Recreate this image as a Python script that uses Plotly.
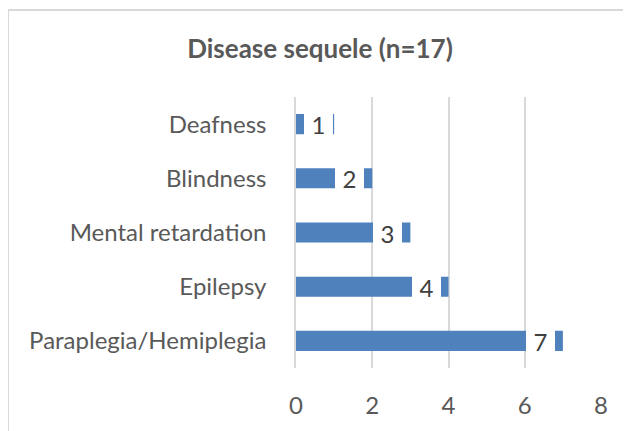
import plotly.graph_objects as go

categories = ["Paraplegia/Hemiplegia", "Epilepsy", "Mental retardation", "Blindness", "Deafness"]
values = [7, 4, 3, 2, 1]
x_ticks = [0, 2, 4, 6, 8]
title = "Disease sequele (n=17)"

BAR = "#4f81bd"
GRID = "#d9d9d9"
TXT = "#595959"
FONT = "Lato"
# per-label offset (px) of the white data-label box from the bar end
LABEL_XSHIFT = {"Deafness": -1}
DEFAULT_XSHIFT = -8

# figure is placed by the page at (8, 8); plot area on page is 296..601 x 97..371
W, H = 623, 423
L, T = 288, 89
PW, PH = 305, 274
R, B = W - L - PW, H - T - PH

fig = go.Figure()
fig.add_trace(go.Bar(
    y=categories, x=values, orientation="h",
    marker=dict(color=BAR, line=dict(width=0)),
    width=0.37, hoverinfo="skip",
))

annotations = []
for c, v in zip(categories, values):
    annotations.append(dict(
        x=v, y=c, xref="x", yref="y", text=str(v), showarrow=False,
        xanchor="right", xshift=LABEL_XSHIFT.get(c, DEFAULT_XSHIFT), width=29, height=24,
        bgcolor="white", borderpad=0, borderwidth=0,
        font=dict(family=FONT, size=24, color="#404040"),
    ))

fig.update_layout(
    width=W, height=H,
    margin=dict(l=L, r=R, t=T, b=B, pad=0),
    paper_bgcolor="white", plot_bgcolor="white",
    showlegend=False,
    title=dict(text="<b>" + title + "</b>", xref="container", yref="container",
               x=(320 - 8) / W, y=1 - (49 - 8) / H, xanchor="center", yanchor="middle",
               font=dict(family=FONT, size=26, color=TXT)),
    annotations=annotations,
    xaxis=dict(range=[0, 8], tickvals=x_ticks, ticktext=[str(t) for t in x_ticks],
               showgrid=True, gridcolor=GRID, gridwidth=1.5, zeroline=False,
               showline=False, ticks="", ticklabelstandoff=21,
               tickfont=dict(family=FONT, size=24, color=TXT), fixedrange=True),
    yaxis=dict(showgrid=False, zeroline=False, showline=True, linecolor=GRID, linewidth=1.5,
               ticks="", ticklabelstandoff=23, categoryorder="array", categoryarray=categories,
               tickfont=dict(family=FONT, size=24, color=TXT), fixedrange=True),
    shapes=[dict(type="rect", xref="paper", yref="paper",
                 x0=(0 - L) / PW, x1=1.5,
                 y0=-1, y1=(T + PH - 1) / PH,
                 line=dict(color=GRID, width=2), fillcolor="rgba(0,0,0,0)", layer="below")],
)

fig.write_html("out.html")
